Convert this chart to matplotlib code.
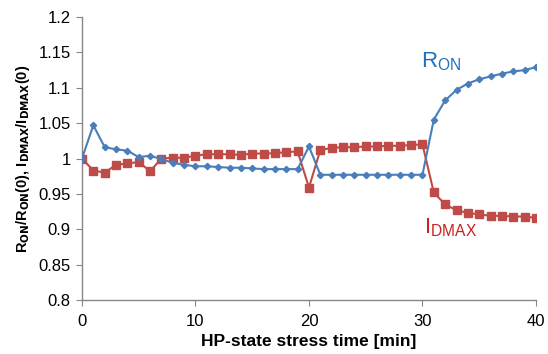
import matplotlib
matplotlib.use("Agg")
import matplotlib.pyplot as plt

plt.rcParams['font.family'] = ['Liberation Sans', 'DejaVu Sans']
plt.rcParams['mathtext.default'] = 'regular'

# stress time [min]
time_min = list(range(0, 41))

# normalised R_ON
r_on = [1.000, 1.047, 1.016, 1.013, 1.011, 1.002, 1.004, 0.999, 0.994, 0.991,
        0.989, 0.989, 0.988, 0.987, 0.987, 0.986, 0.985, 0.985, 0.985, 0.985,
        1.017, 0.977, 0.977, 0.977, 0.977, 0.977, 0.977, 0.977, 0.977, 0.977,
        0.977, 1.055, 1.082, 1.097, 1.106, 1.112, 1.116, 1.120, 1.123, 1.125,
        1.129]

# normalised I_DMAX
i_dmax = [1.000, 0.983, 0.980, 0.991, 0.993, 0.995, 0.982, 1.000, 1.001, 1.001,
          1.004, 1.006, 1.006, 1.006, 1.005, 1.007, 1.007, 1.0075, 1.009, 1.010,
          0.959, 1.012, 1.015, 1.016, 1.016, 1.017, 1.017, 1.018, 1.018, 1.019,
          1.020, 0.952, 0.935, 0.927, 0.923, 0.921, 0.919, 0.919, 0.918, 0.918,
          0.916]

x_ticks = [0, 10, 20, 30, 40]
y_ticks = [0.8, 0.85, 0.9, 0.95, 1.0, 1.05, 1.1, 1.15, 1.2]
y_tick_labels = ['0.8', '0.85', '0.9', '0.95', '1', '1.05', '1.1', '1.15', '1.2']

fig = plt.figure(figsize=(5.48, 3.54), dpi=100)
ax = fig.add_axes([0.1496, 0.1525, 0.8284, 0.7995])

ax.plot(time_min, r_on, color='#4a7ebb', lw=1.5, marker='D', ms=3.2,
        mec='#4a7ebb', mfc='#4a7ebb', zorder=3)
ax.plot(time_min, i_dmax, color='#be4b48', lw=1.5, marker='s', ms=5.5,
        mec='#be4b48', mfc='#be4b48', zorder=2)

ax.set_xlim(0, 40)
ax.set_ylim(0.8, 1.2)
ax.set_xticks(x_ticks)
ax.set_yticks(y_ticks)
ax.set_yticklabels(y_tick_labels)
ax.tick_params(axis='y', labelsize=12, length=4, color='#868686', direction='out', pad=4)
ax.tick_params(axis='x', labelsize=12, length=4, color='#868686', direction='out', pad=6)

for side in ['top', 'right']:
    ax.spines[side].set_visible(False)
for side in ['left', 'bottom']:
    ax.spines[side].set_color('#868686')
    ax.spines[side].set_linewidth(1.0)

ax.set_xlabel('HP-state stress time [min]', fontsize=12.5, fontweight='bold', labelpad=4)
ax.set_ylabel(r'R$_{\mathbf{ON}}$/R$_{\mathbf{ON}}$(0), I$_{\mathbf{DMAX}}$/I$_{\mathbf{DMAX}}$(0)',
              fontsize=10.5, fontweight='bold', labelpad=5)

# series labels placed next to the curves
fig.text(421 / 548, 1 - 67 / 354, r'R$_{ON}$', fontsize=16, color='#1f6fbf',
         ha='left', va='baseline')
fig.text(424 / 548, 1 - 233 / 354, r'I$_{DMAX}$', fontsize=16, color='#cc1f1f',
         ha='left', va='baseline')

fig.savefig('out.png', dpi=100)
